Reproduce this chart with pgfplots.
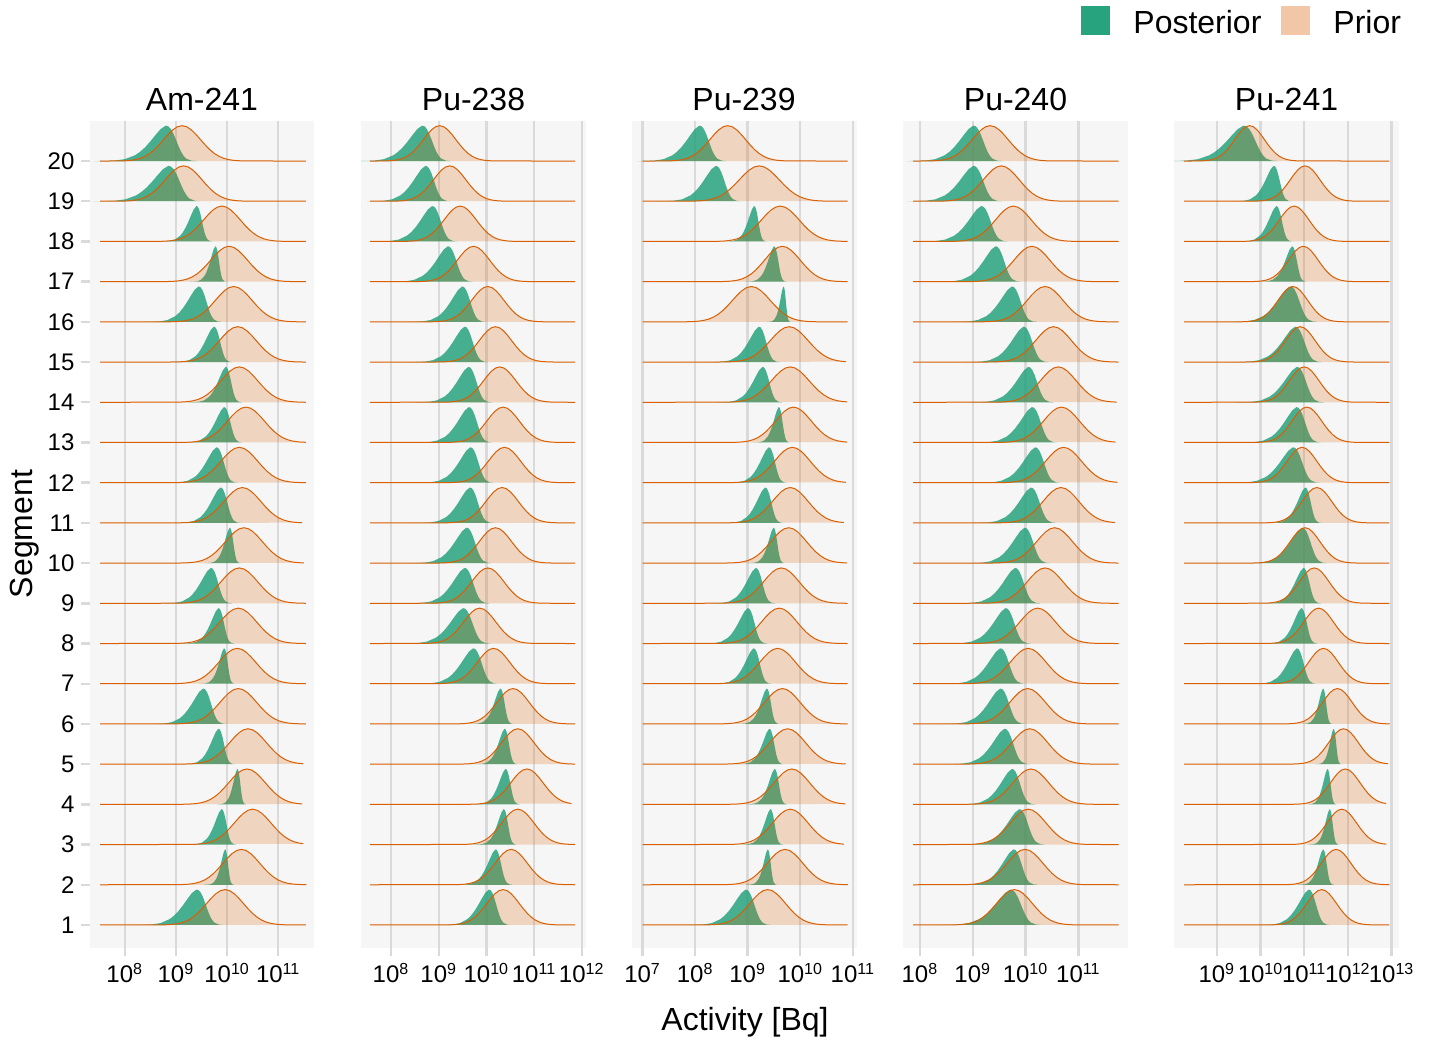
\documentclass[border=0pt]{standalone}
\usepackage{fontspec}
\setmainfont{Liberation Sans}
\usepackage{pgfplots}
\usepackage{pgfplotstable}
\pgfplotsset{compat=1.18}

\definecolor{postc}{HTML}{1B9E77}
\definecolor{priorc}{HTML}{D95F02}
\definecolor{panelbg}{HTML}{F6F6F6}
\definecolor{gridc}{HTML}{DADADA}

% unit density shapes (peak = 1), z in units of the spread
\pgfplotstableread{
z d e
-40 0 -1
-3.5 0.0022 0
-3.25 0.0051 0
-3 0.0111 0
-2.75 0.0228 0
-2.5 0.0439 0
-2.25 0.0796 0
-2 0.1353 0
-1.75 0.2163 0
-1.5 0.3247 0
-1.25 0.4578 0
-1 0.6065 0
-0.75 0.7548 0
-0.5 0.8825 0
-0.25 0.9692 0
0 1 0
0.25 0.9692 0
0.5 0.8825 0
0.75 0.7548 0
1 0.6065 0
1.25 0.4578 0
1.5 0.3247 0
1.75 0.2163 0
2 0.1353 0
2.25 0.0796 0
2.5 0.0439 0
2.75 0.0228 0
3 0.0111 0
3.25 0.0051 0
3.5 0.0022 0
40 0 1
}\priorshape

\pgfplotstableread{
z d
-3.5 0
-3 0.0027
-2.5 0.0135
-2 0.0533
-1.5 0.164
-1.25 0.262
-1 0.394
-0.75 0.555
-0.5 0.735
-0.25 0.904
0 1
0.125 0.983
0.25 0.909
0.375 0.778
0.5 0.606
0.625 0.426
0.75 0.266
0.875 0.147
1 0.071
1.25 0.011
1.5 0
}\postshape

% r = segment, pm/ps = posterior mode/spread, qm/qs = prior centre/spread (log10 Bq)
\pgfplotstableread{
r pm ps qm qs
20 8.80 0.40 9.12 0.36
19 8.85 0.42 9.15 0.36
18 9.40 0.21 9.90 0.36
17 9.77 0.14 10.04 0.36
16 9.44 0.30 10.13 0.36
15 9.74 0.24 10.21 0.36
14 9.97 0.21 10.24 0.36
13 9.94 0.24 10.37 0.36
12 9.79 0.28 10.24 0.36
11 9.87 0.26 10.30 0.36
10 10.05 0.14 10.33 0.36
9 9.68 0.28 10.24 0.36
8 9.83 0.21 10.22 0.36
7 9.94 0.14 10.20 0.36
6 9.53 0.30 10.22 0.36
5 9.83 0.21 10.41 0.36
4 10.20 0.115 10.39 0.36
3 9.89 0.19 10.50 0.36
2 9.96 0.115 10.28 0.36
1 9.40 0.35 9.96 0.36
}\amtwofourone

\pgfplotstableread{
r pm ps qm qs
20 8.65 0.40 9.02 0.34
19 8.72 0.35 9.23 0.34
18 8.86 0.35 9.45 0.34
17 9.19 0.35 9.73 0.34
16 9.49 0.33 10.03 0.34
15 9.54 0.33 10.19 0.34
14 9.62 0.33 10.28 0.34
13 9.63 0.33 10.35 0.34
12 9.66 0.33 10.38 0.34
11 9.65 0.33 10.33 0.34
10 9.58 0.35 10.19 0.34
9 9.54 0.35 10.03 0.34
8 9.51 0.38 9.86 0.34
7 9.72 0.35 10.15 0.34
6 10.29 0.18 10.56 0.34
5 10.38 0.18 10.66 0.34
4 10.40 0.20 10.85 0.34
3 10.36 0.18 10.66 0.34
2 10.19 0.23 10.52 0.34
1 10.05 0.30 10.35 0.34
}\putwothreeeight

\pgfplotstableread{
r pm ps qm qs
20 8.08 0.34 8.62 0.34
19 8.39 0.32 9.22 0.38
18 9.12 0.16 9.62 0.36
17 9.50 0.16 9.66 0.34
16 9.68 0.09 9.07 0.36
15 9.21 0.27 9.79 0.36
14 9.28 0.25 9.81 0.36
13 9.59 0.14 9.87 0.34
12 9.40 0.23 9.85 0.34
11 9.33 0.23 9.81 0.34
10 9.49 0.14 9.78 0.34
9 9.15 0.25 9.64 0.34
8 9.00 0.25 9.60 0.34
7 9.11 0.23 9.57 0.34
6 9.36 0.16 9.66 0.34
5 9.41 0.18 9.76 0.34
4 9.51 0.16 9.84 0.34
3 9.43 0.16 9.81 0.34
2 9.38 0.115 9.71 0.34
1 8.96 0.32 9.38 0.34
}\putwothreenine

\pgfplotstableread{
r pm ps qm qs
20 9.01 0.36 9.33 0.34
19 9.01 0.36 9.54 0.34
18 9.16 0.34 9.77 0.34
17 9.43 0.32 10.12 0.34
16 9.74 0.32 10.37 0.34
15 9.96 0.32 10.53 0.34
14 10.05 0.32 10.62 0.34
13 10.12 0.32 10.68 0.34
12 10.18 0.32 10.72 0.34
11 10.10 0.32 10.67 0.34
10 9.98 0.32 10.55 0.34
9 9.80 0.32 10.37 0.34
8 9.62 0.32 10.23 0.34
7 9.52 0.32 10.05 0.34
6 9.52 0.32 10.04 0.34
5 9.60 0.32 10.08 0.34
4 9.74 0.30 10.10 0.34
3 9.88 0.32 10.05 0.34
2 9.77 0.30 9.99 0.34
1 9.71 0.39 9.79 0.34
}\putwofourzero

\pgfplotstableread{
r pm ps qm qs
20 9.61 0.52 9.75 0.34
19 10.30 0.27 11.02 0.34
18 10.36 0.25 10.77 0.34
17 10.72 0.22 10.98 0.34
16 10.68 0.41 10.74 0.34
15 10.79 0.41 10.91 0.34
14 10.83 0.41 11.00 0.34
13 10.82 0.38 11.06 0.34
12 10.74 0.41 10.95 0.34
11 11.02 0.25 11.29 0.34
10 10.95 0.38 11.02 0.34
9 10.98 0.27 11.23 0.34
8 10.93 0.25 11.33 0.34
7 10.83 0.30 11.44 0.34
6 11.43 0.14 11.76 0.34
5 11.67 0.12 11.90 0.34
4 11.53 0.14 11.94 0.34
3 11.58 0.14 11.86 0.34
2 11.43 0.165 11.73 0.34
1 11.10 0.33 11.40 0.34
}\putwofourone

\pgfplotsset{
  postfill/.style={draw=none, fill=postc, fill opacity=0.8},
  priorfill/.style={draw=priorc, line width=0.5pt, fill=priorc, fill opacity=0.22},
  panel/.style={
    scale only axis, width=112.5pt, height=413.5pt, anchor=south west,
    ymin=0.427, ymax=20.996,
    axis line style={draw=none},
    axis background/.style={fill=panelbg},
    xmajorgrids, grid style={gridc, line width=1.2pt},
    tick align=outside, major tick length=4pt,
    tick style={gridc, line width=1.2pt},
    tick pos=left, ytick=\empty,
    /pgf/number format/assume math mode=true,
    ticklabel style={font=\fontsize{12}{14}\selectfont},
    title style={at={(0.5,1)}, anchor=base, yshift=-1pt,
      font=\fontsize{16}{18}\selectfont},
  },
}

% #1 table, #2 #3 x range of the prior baseline
\newcommand\ridges[3]{%
  \pgfplotstablegetrowsof{#1}%
  \pgfmathtruncatemacro\nlast{\pgfplotsretval-1}%
  \pgfplotsforeachungrouped \k in {0,...,\nlast}{%
    \pgfplotstablegetelem{\k}{r}\of{#1}\let\vr\pgfplotsretval
    \pgfplotstablegetelem{\k}{pm}\of{#1}\let\vpm\pgfplotsretval
    \pgfplotstablegetelem{\k}{ps}\of{#1}\let\vps\pgfplotsretval
    \edef\doplot{\noexpand\addplot[postfill] table[x expr=\noexpand\thisrow{z}*\vps+\vpm,
      y expr=\noexpand\thisrow{d}*0.88+\vr]{\noexpand\postshape};}%
    \doplot
  }%
  \pgfplotsforeachungrouped \k in {0,...,\nlast}{%
    \pgfplotstablegetelem{\k}{r}\of{#1}\let\vr\pgfplotsretval
    \pgfplotstablegetelem{\k}{qm}\of{#1}\let\vqm\pgfplotsretval
    \pgfplotstablegetelem{\k}{qs}\of{#1}\let\vqs\pgfplotsretval
    \edef\doplot{\noexpand\addplot[priorfill, restrict x to domain=#2:#3] table[x expr={\noexpand\thisrow{e}==0 ? \noexpand\thisrow{z}*\vqs+\vqm : (\noexpand\thisrow{e}<0 ? #2 : #3)},
      y expr=\noexpand\thisrow{d}*0.88+\vr]{\noexpand\priorshape};}%
    \doplot
  }%
}

\begin{document}
\begin{tikzpicture}
\useasboundingbox (0,0) rectangle (718pt,520pt);

\begin{axis}[panel, at={(44.75pt,46pt)}, title={Am-241},
  xmin=7.31, xmax=11.71, xtick={8,9,10,11},
  xticklabels={10\textsuperscript{8},10\textsuperscript{9},10\textsuperscript{10},10\textsuperscript{11}},
  ytick={1,...,20}]
\ridges{\amtwofourone}{7.52}{11.54}
\end{axis}

\begin{axis}[panel, at={(180.5pt,46pt)}, title={Pu-238},
  xmin=7.37, xmax=12.09, xtick={8,9,10,11,12},
  xticklabels={10\textsuperscript{8},10\textsuperscript{9},10\textsuperscript{10},10\textsuperscript{11},10\textsuperscript{12}}]
\ridges{\putwothreeeight}{7.56}{11.86}
\end{axis}

\begin{axis}[panel, at={(315.75pt,46pt)}, title={Pu-239},
  xmin=6.79, xmax=11.07, xtick={7,8,9,10,11},
  xticklabels={10\textsuperscript{7},10\textsuperscript{8},10\textsuperscript{9},10\textsuperscript{10},10\textsuperscript{11}}]
\ridges{\putwothreenine}{7.0}{10.90}
\end{axis}

\begin{axis}[panel, at={(451.5pt,46pt)}, title={Pu-240},
  xmin=7.68, xmax=11.94, xtick={8,9,10,11},
  xticklabels={10\textsuperscript{8},10\textsuperscript{9},10\textsuperscript{10},10\textsuperscript{11}}]
\ridges{\putwofourzero}{7.87}{11.76}
\end{axis}

\begin{axis}[panel, at={(587pt,46pt)}, title={Pu-241},
  xmin=8.02, xmax=13.17, xtick={9,10,11,12,13},
  xticklabels={10\textsuperscript{9},10\textsuperscript{10},10\textsuperscript{11},10\textsuperscript{12},10\textsuperscript{13}}]
\ridges{\putwofourone}{8.25}{12.95}
\end{axis}

% axis titles
\node[anchor=base, font=\fontsize{16}{18}\selectfont] at (372.5pt,5pt) {Activity [Bq]};
\node[anchor=base, rotate=90, font=\fontsize{16}{18}\selectfont] at (16.5pt,253pt) {Segment};

% legend
\fill[postc, fill opacity=0.95] (540.5pt,502.5pt) rectangle ++(14.5pt,14.5pt);
\node[anchor=base west, font=\fontsize{16}{18}\selectfont, inner sep=0pt] at (566.5pt,503pt) {Posterior};
\fill[priorc, fill opacity=0.35] (640.5pt,502.5pt) rectangle ++(14.5pt,14.5pt);
\node[anchor=base west, font=\fontsize{16}{18}\selectfont, inner sep=0pt] at (666.5pt,503pt) {Prior};
\end{tikzpicture}
\end{document}
